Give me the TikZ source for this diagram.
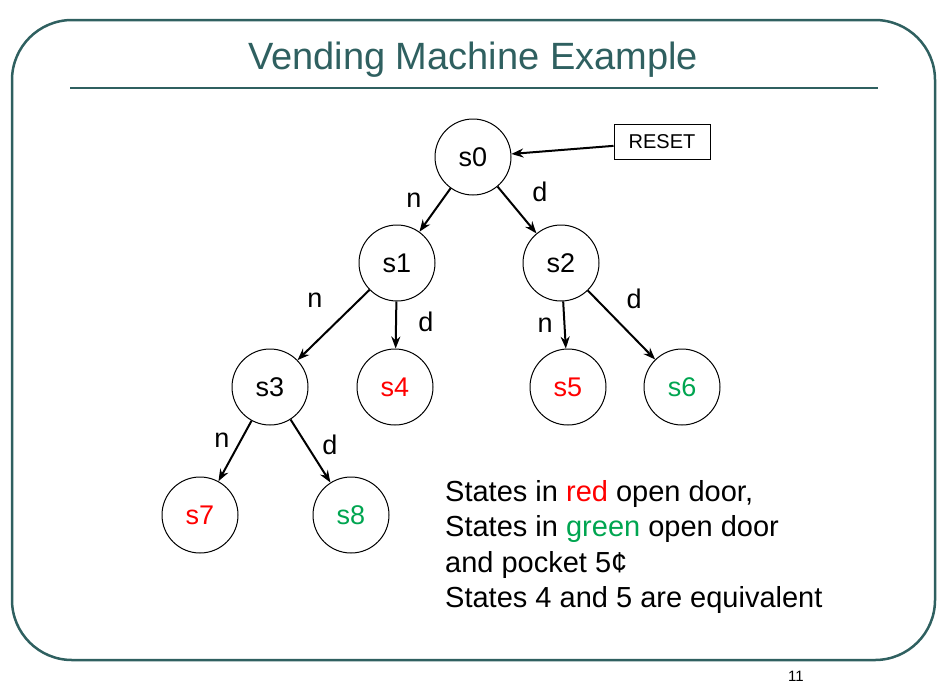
\documentclass[tikz,border=0pt]{standalone}
\usepackage{fontspec}
\setmainfont{Liberation Sans}
\usetikzlibrary{arrows.meta}
\definecolor{teal1}{HTML}{2F6060}
\definecolor{gr}{HTML}{00A550}
\begin{document}
\begin{tikzpicture}[x=1pt,y=-1pt,
 st/.style={circle,draw,line width=1pt,minimum size=76pt,inner sep=0pt,font=\fontsize{27}{30}\selectfont},
 ar/.style={-{Stealth[length=12pt,width=9pt]},line width=2pt},
 lb/.style={font=\fontsize{27}{30}\selectfont}]
\useasboundingbox (0,0) rectangle (947,694);
\draw[teal1,line width=2.5pt,rounded corners=60pt] (12,20) rectangle (935,660);
\node[teal1,font=\fontsize{38}{44}\selectfont] (title) at (473,60) {Vending Machine Example};
\draw[teal1,line width=2.5pt] (70,88) -- (878,88);
\node[st] (s0) at (473,157) {s0};
\node[st] (s1) at (397,263) {s1};
\node[st] (s2) at (561,263) {s2};
\node[st] (s3) at (270,387) {s3};
\node[st,text=red] (s4) at (395,387) {s4};
\node[st,text=red] (s5) at (568,387) {s5};
\node[st,text=gr] (s6) at (682,387) {s6};
\node[st,text=red] (s7) at (200,515) {s7};
\node[st,text=gr] (s8) at (351,515) {s8};
\node[draw,line width=1pt,minimum width=96pt,minimum height=35pt,font=\fontsize{20}{24}\selectfont] (reset) at (662,142) {RESET};
\draw[ar] (reset) -- (s0);
\draw[ar] (s0) -- (s1); \draw[ar] (s0) -- (s2);
\draw[ar] (s1) -- (s3); \draw[ar] (s1) -- (s4);
\draw[ar] (s2) -- (s5); \draw[ar] (s2) -- (s6);
\draw[ar] (s3) -- (s7); \draw[ar] (s3) -- (s8);
\node[lb] (l1) at (414,200) {n};
\node[lb] (l2) at (540,192) {d};
\node[lb] (l3) at (315,300) {n};
\node[lb] (l4) at (426,322) {d};
\node[lb] (l5) at (545,325) {n};
\node[lb] (l6) at (634,299) {d};
\node[lb] (l7) at (222,440) {n};
\node[lb] (l8) at (330,445) {d};
\node[anchor=north west,align=left,inner sep=0pt,font=\fontsize{29}{35.5}\selectfont] (txt) at (445,480)
{States in \textcolor{red}{red} open door,\\ States in \textcolor{gr}{green} open door\\ and pocket 5¢\\ States 4 and 5 are equivalent};
\node[font=\fontsize{15}{16}\selectfont] (pg) at (796,676) {11};
\end{tikzpicture}
\end{document}
